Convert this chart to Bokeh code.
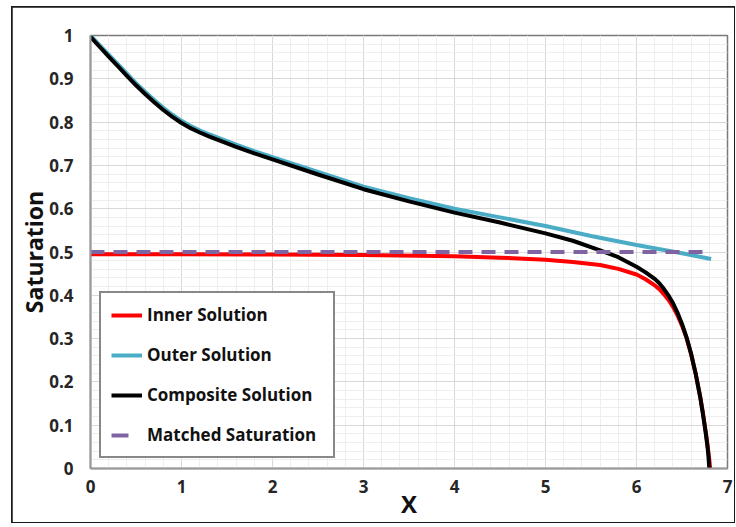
from bokeh.plotting import figure
from bokeh.models import Range1d, SingleIntervalTicker, CustomJSTickFormatter, Legend, LegendItem
from bokeh.embed import file_html
from bokeh.resources import INLINE

# ---------------- data ----------------
x_tick_interval = 1
y_tick_interval = 0.1

inner_x = [0, 1, 2, 3, 4, 4.5, 5.0, 5.3, 5.6, 5.8, 6.0, 6.1, 6.2, 6.25, 6.3, 6.35, 6.4,
           6.45, 6.5, 6.55, 6.6, 6.65, 6.7, 6.73, 6.76, 6.78, 6.80, 6.81]
inner_y = [0.495, 0.495, 0.494, 0.493, 0.490, 0.487, 0.482, 0.477, 0.470, 0.461, 0.448,
           0.437, 0.423, 0.414, 0.403, 0.390, 0.374, 0.354, 0.330, 0.301, 0.264, 0.219,
           0.166, 0.128, 0.086, 0.055, 0.020, 0.0]

outer_x = [0, 0.1, 0.2, 0.3, 0.4, 0.5, 0.6, 0.7, 0.8, 0.9, 1.0, 1.1, 1.2, 1.3, 1.4, 1.6,
           1.8, 2.0, 2.5, 3.0, 3.5, 4.0, 4.5, 5.0, 5.5, 6.0, 6.5, 6.82]
outer_y = [1.0, 0.978, 0.956, 0.934, 0.912, 0.890, 0.870, 0.851, 0.833, 0.817, 0.803,
           0.791, 0.781, 0.772, 0.764, 0.748, 0.733, 0.719, 0.685, 0.651, 0.624, 0.600,
           0.580, 0.560, 0.537, 0.516, 0.497, 0.484]

comp_x = [0, 0.1, 0.2, 0.3, 0.4, 0.5, 0.6, 0.7, 0.8, 0.9, 1.0, 1.1, 1.2, 1.3, 1.4, 1.6,
          1.8, 2.0, 2.5, 3.0, 3.5, 4.0, 4.5, 5.0, 5.3, 5.6, 5.8, 6.0, 6.1, 6.2, 6.25, 6.3,
          6.35, 6.4, 6.45, 6.5, 6.55, 6.6, 6.65, 6.7, 6.73, 6.76, 6.78, 6.79, 6.80]
comp_y = [0.997, 0.974, 0.951, 0.929, 0.907, 0.885, 0.865, 0.846, 0.828, 0.812, 0.798,
          0.786, 0.776, 0.767, 0.759, 0.743, 0.728, 0.714, 0.679, 0.645, 0.617, 0.591,
          0.568, 0.543, 0.526, 0.504, 0.488, 0.466, 0.453, 0.438, 0.428, 0.415, 0.400,
          0.382, 0.360, 0.334, 0.303, 0.265, 0.219, 0.165, 0.126, 0.083, 0.051, 0.030, 0.0]

matched_x = [0, 6.82]
matched_y = [0.5, 0.5]

series_names = ["Inner Solution", "Outer Solution", "Composite Solution", "Matched Saturation"]

FONT = "Open Sans"

# ---------------- figure ----------------
p = figure(width=722, height=515, x_range=Range1d(0, 7), y_range=Range1d(0, 1),
           output_backend="svg", toolbar_location=None,
           min_border_left=78, min_border_right=7, min_border_top=28, min_border_bottom=53)
p.margin = (7, 0, 0, 12)
p.styles = {"outline": "2px solid #1a1a1a", "outline-offset": "-1px"}
p.background_fill_color = "white"
p.border_fill_color = "white"
p.outline_line_color = "#7a7a7a"
p.outline_line_width = 1.5

p.xaxis.ticker = SingleIntervalTicker(interval=x_tick_interval, num_minor_ticks=5)
p.yaxis.ticker = SingleIntervalTicker(interval=y_tick_interval, num_minor_ticks=5)
p.yaxis.formatter = CustomJSTickFormatter(code="return (Math.round(tick*10)/10).toString();")

for ax in (p.xaxis[0], p.yaxis[0]):
    ax.major_tick_out = 0
    ax.major_tick_in = 0
    ax.minor_tick_out = 0
    ax.minor_tick_in = 0
    ax.axis_line_color = "#9a9a9a"
    ax.axis_line_width = 2
    ax.major_label_text_font = FONT
    ax.major_label_text_font_style = "bold"
    ax.major_label_text_font_size = "17px"
    ax.major_label_text_color = "#262626"
    ax.axis_label_text_font = FONT
    ax.axis_label_text_font_style = "bold"
    ax.axis_label_text_color = "#111111"

p.xaxis.axis_label = "X"
p.xaxis.axis_label_text_font_size = "24px"
p.xaxis.major_label_standoff = 11
p.xaxis.axis_label_standoff = -9
p.yaxis.axis_label = "Saturation"
p.yaxis.axis_label_text_font_size = "23px"
p.yaxis.major_label_standoff = 17
p.yaxis.axis_label_standoff = -4

p.xgrid.grid_line_color = "#d9d9d9"
p.ygrid.grid_line_color = "#d9d9d9"
p.xgrid.minor_grid_line_color = "#eeeeee"
p.ygrid.minor_grid_line_color = "#eeeeee"

# ---------------- series ----------------
r_inner = p.line(inner_x, inner_y, line_color="#ff0000", line_width=4)
r_outer = p.line(outer_x, outer_y, line_color="#4bacc6", line_width=4)
r_comp = p.line(comp_x, comp_y, line_color="#000000", line_width=4)
r_match = p.line(matched_x, matched_y, line_color="#8064a2", line_width=4, line_dash="14 9")
r_match_leg = p.line([float("nan")], [float("nan")], line_color="#8064a2", line_width=4,
                     line_dash="17 20")

legend = Legend(items=[
    LegendItem(label=series_names[0], renderers=[r_inner]),
    LegendItem(label=series_names[1], renderers=[r_outer]),
    LegendItem(label=series_names[2], renderers=[r_comp]),
    LegendItem(label=series_names[3], renderers=[r_match_leg]),
], location=(9, 10))
legend.label_text_font = FONT
legend.label_text_font_style = "bold"
legend.label_text_font_size = "17px"
legend.label_text_color = "#111111"
legend.glyph_width = 31
legend.glyph_height = 20
legend.label_height = 20
legend.label_width = 176
legend.label_standoff = 5
legend.spacing = 17
legend.padding = 10
legend.margin = 0
legend.border_line_color = "#111111"
legend.border_line_width = 2
legend.background_fill_color = "white"
legend.background_fill_alpha = 1
p.add_layout(legend, "center")

open("out.html", "w").write(file_html(p, INLINE))
